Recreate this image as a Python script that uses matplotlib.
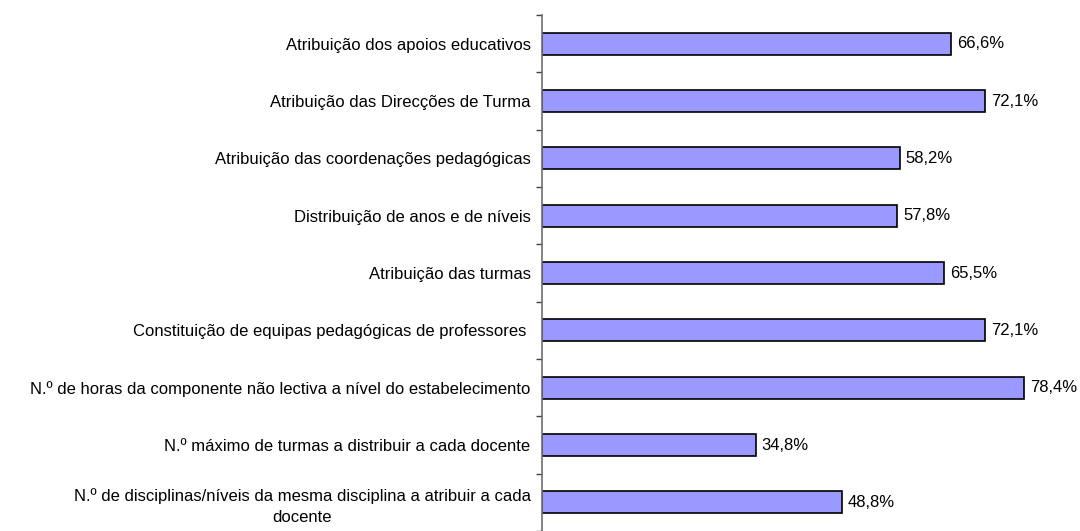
import numpy as np
import matplotlib
matplotlib.use('Agg')
import matplotlib.pyplot as plt

plt.rcParams['font.family'] = ['Liberation Sans', 'DejaVu Sans']

categories = [
    'Atribuição dos apoios educativos',
    'Atribuição das Direcções de Turma',
    'Atribuição das coordenações pedagógicas',
    'Distribuição de anos e de níveis',
    'Atribuição das turmas',
    'Constituição de equipas pedagógicas de professores ',
    'N.º de horas da componente não lectiva a nível do estabelecimento',
    'N.º máximo de turmas a distribuir a cada docente',
    'N.º de disciplinas/níveis da mesma disciplina a atribuir a cada\ndocente',
]
values = [66.6, 72.1, 58.2, 57.8, 65.5, 72.1, 78.4, 34.8, 48.8]
value_labels = ['66,6%', '72,1%', '58,2%', '57,8%', '65,5%', '72,1%', '78,4%', '34,8%', '48,8%']

fig = plt.figure(figsize=(10.8, 5.31), dpi=100)
ax = fig.add_axes([0.5015, 0.0, 0.4985, 1 - 15 / 531])

pos = np.arange(len(categories))
ax.barh(pos, values, height=0.385, color='#9999FF', edgecolor='black', linewidth=1.2)

for p, v, lab in zip(pos, values, value_labels):
    ax.text(v + 1.0, p, lab, va='center', ha='left', fontsize=12)

ax.set_xlim(0, (1080 - 541.6) / 6.15)
ax.set_ylim(8.5 - 6 / 58, -0.5)

# ticks sit between categories, labels centred on bars
ax.set_yticks(np.arange(-0.5, len(categories), 1.0))
ax.set_yticklabels([])
ax.set_yticks(pos, minor=True)
ax.set_yticklabels(categories, minor=True, fontsize=12, linespacing=1.45)
ax.tick_params(axis='y', which='major', direction='out', length=4, width=1, color='#404040')
ax.tick_params(axis='y', which='minor', length=0, pad=8)
ax.set_xticks([])

for lab in ax.get_yticklabels(minor=True):
    lab.set_ha('right')
    lab.set_multialignment('center')

for s in ['top', 'right', 'bottom']:
    ax.spines[s].set_visible(False)
ax.spines['left'].set_color('#707070')
ax.spines['left'].set_linewidth(1.2)

fig.savefig('out.png', dpi=100)
